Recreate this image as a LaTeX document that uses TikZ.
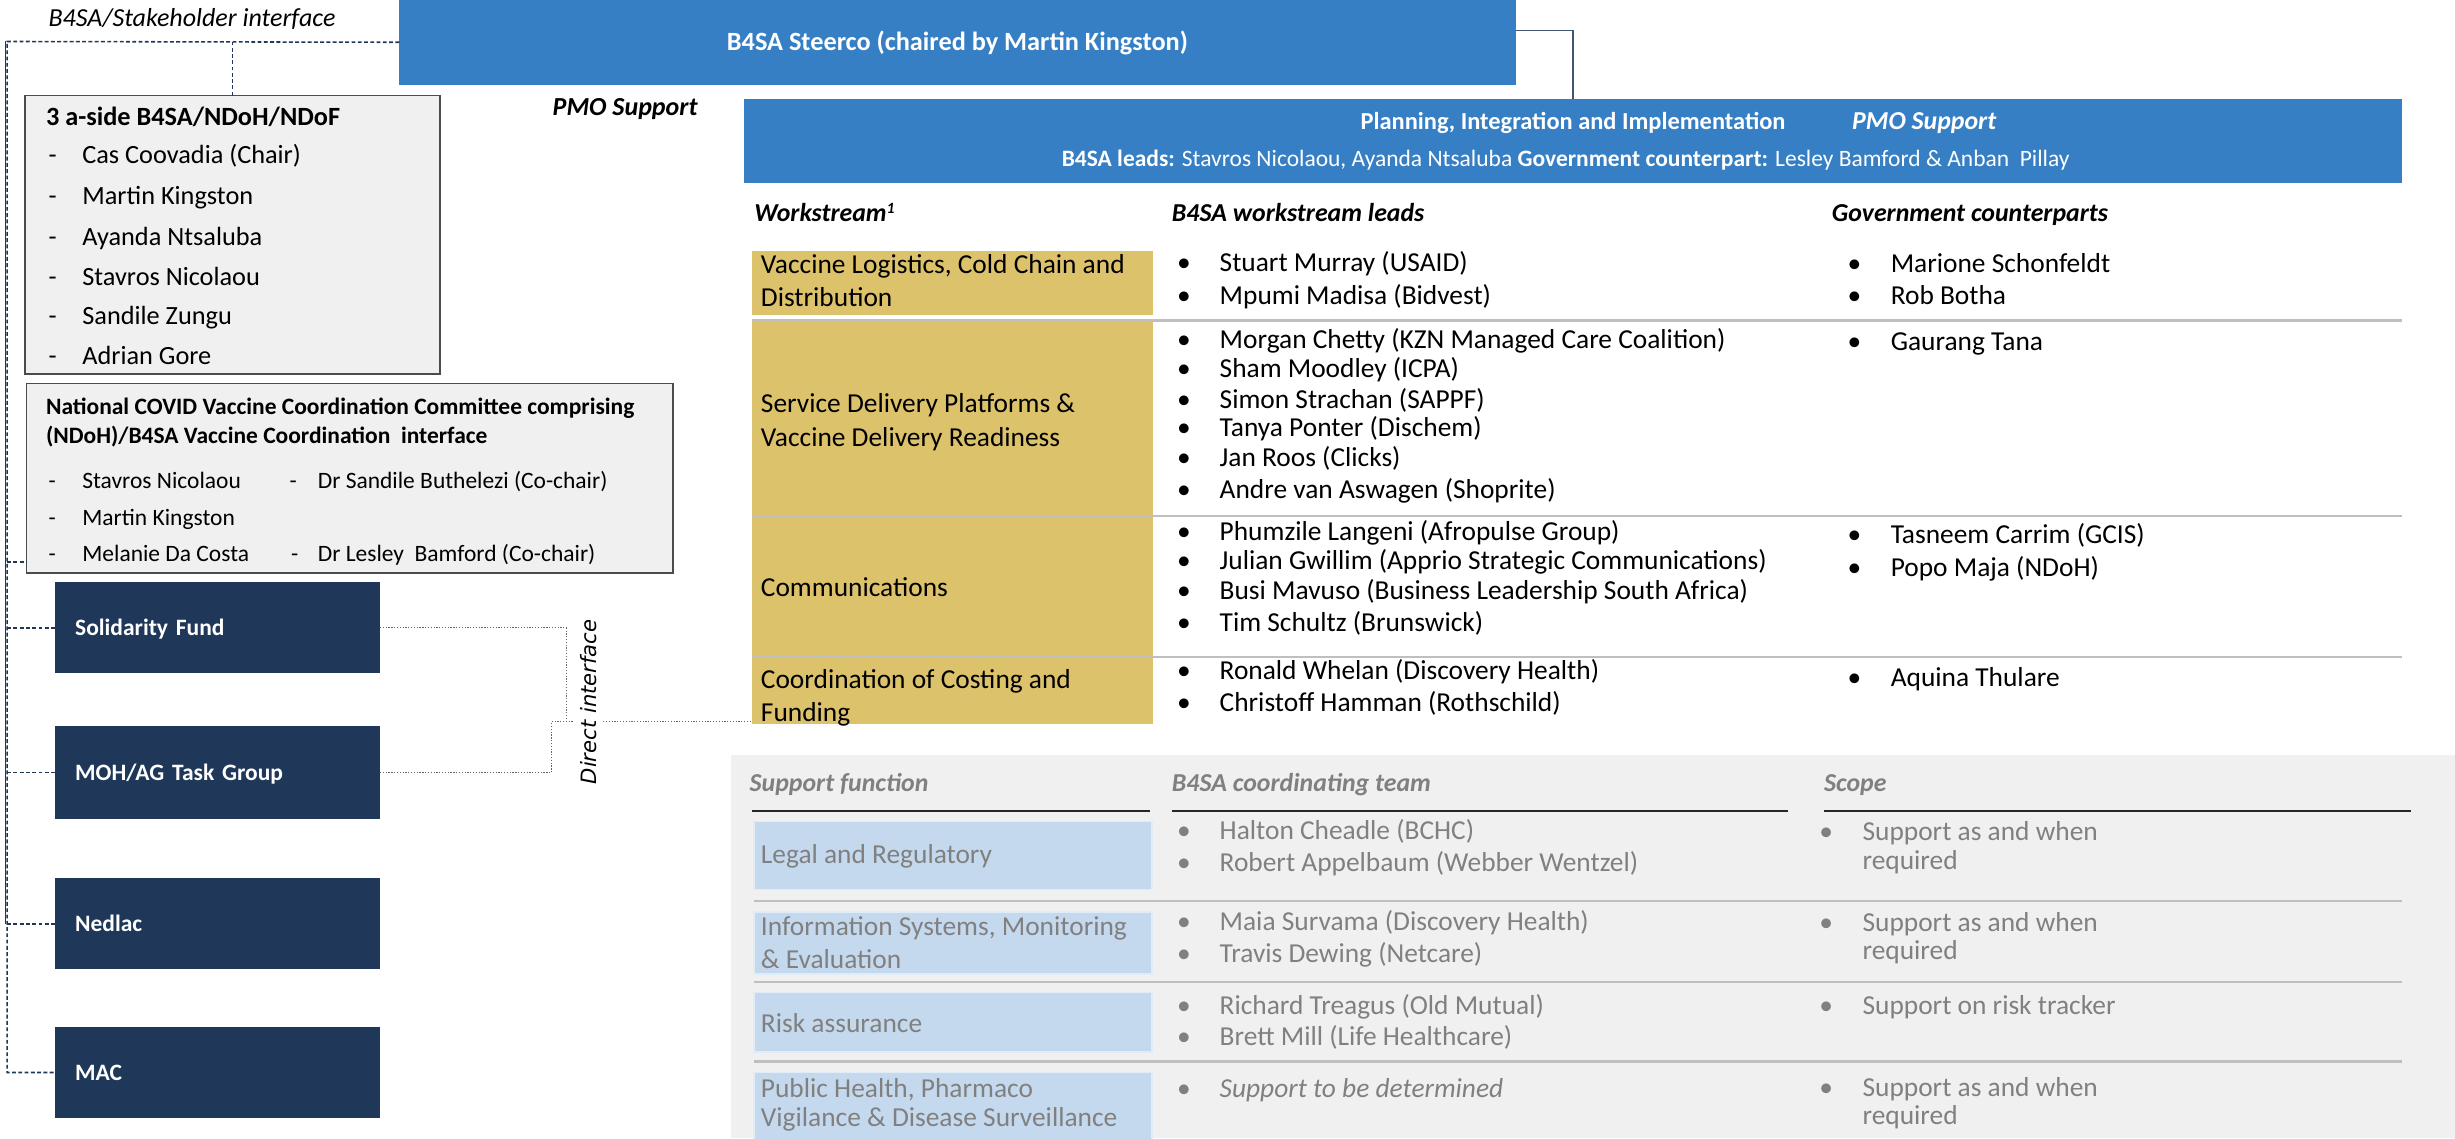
\documentclass[tikz,border=0pt]{standalone}
\usepackage{fontspec}
\usepackage{xcolor}
\setmainfont{Carlito}
\newfontfamily\dejavu{DejaVu Sans}

\definecolor{steerblue}{RGB}{54,127,196}
\definecolor{navy}{RGB}{31,56,89}
\definecolor{gold}{RGB}{221,194,108}
\definecolor{paleblue}{RGB}{197,217,238}
\definecolor{panelgray}{RGB}{240,240,240}
\definecolor{softgray}{RGB}{128,128,128}
\definecolor{rulegray}{RGB}{191,191,191}

\begin{document}
\begin{tikzpicture}[x=1pt, y=-1pt,
    every node/.style={inner sep=0pt, outer sep=0pt},
    bodytxt/.style={anchor=west, font=\fontsize{17.5}{21}\selectfont, text height=11.3pt, text depth=0pt},
    softtxt/.style={bodytxt, text=softgray},
    headtxt/.style={anchor=west, font=\fontsize{16.5}{20}\selectfont\bfseries\itshape, text height=10.8pt, text depth=0pt},
    bigtxt/.style={anchor=west, font=\fontsize{16.8}{20}\selectfont, text height=10.9pt, text depth=0pt},
    smalltxt/.style={anchor=west, font=\fontsize{15}{18}\selectfont, text height=9.7pt, text depth=0pt},
    bluebox/.style={fill=steerblue, text=white, anchor=north west},
    greybox/.style={draw=black!70, line width=1pt, fill=panelgray, anchor=north west},
    navybox/.style={fill=navy, text=white, anchor=north west, minimum width=207.7pt, minimum height=58pt,
        text width=181.7pt, inner xsep=13pt, align=left, font=\fontsize{15}{18}\selectfont\bfseries,
        text height=9.7pt, text depth=0pt},
    goldcell/.style={fill=gold, anchor=north west, minimum width=255.8pt},
    bluecell/.style={fill=paleblue, draw=paleblue!50!white, line width=1pt, anchor=north west, minimum width=254pt},
    dashlink/.style={draw=navy, line width=1pt, dash pattern=on 2.5pt off 1.5pt},
    dotlink/.style={draw=black!60, line width=0.8pt, densely dotted},
    sepline/.style={draw=rulegray, line width=1.4pt},
    headrule/.style={draw=black!85, line width=1.2pt}]
    \useasboundingbox (0,0) rectangle (1568,727);

    % Support function panel
    \fill[panelgray] (467,482) rectangle (1568,727);

    % Steerco and PMO
    \node[bluebox, minimum width=713pt, minimum height=54pt, font=\fontsize{16.8}{20}\selectfont\bfseries,
        text height=10.9pt, text depth=0pt] (steerco) at (255,0) {B4SA Steerco (chaired by Martin Kingston)};
    \node[anchor=west, font=\fontsize{16.6}{20}\selectfont\itshape, text height=10.8pt, text depth=0pt]
        (stakelabel) at (31,11.8) {B4SA/Stakeholder interface};
    \node[anchor=west, font=\fontsize{16.6}{20}\selectfont\bfseries\itshape, text height=10.8pt, text depth=0pt]
        (pmolabel) at (353,68.5) {PMO Support};
    \node[bluebox, minimum width=1059pt, minimum height=54pt] (pmo) at (475,63) {};
    \node[anchor=west, text=white, font=\fontsize{15.6}{19}\selectfont\bfseries, text height=10.1pt, text depth=0pt]
        (pmotitle) at (869,77.4) {Planning, Integration and Implementation};
    \node[anchor=west, text=white, font=\fontsize{16.5}{20}\selectfont\bfseries\itshape, text height=10.8pt, text depth=0pt]
        (pmosupport) at (1183,77.4) {PMO Support};
    \node[text=white, font=\fontsize{15}{18}\selectfont, text height=9.7pt, text depth=0pt] (pmoleads) at (1000,101.3)
        {\textbf{B4SA leads:} Stavros Nicolaou, Ayanda Ntsaluba \textbf{Government counterpart:} Lesley Bamford \& Anban\ \ Pillay};
    \draw[navy!85, line width=1pt] ([yshift=7.5pt]steerco.east) -| (pmo.north);

    % 3 a-side box
    \node[greybox, minimum width=265pt, minimum height=178pt] (aside) at (16,61) {};
    \node[bigtxt, font=\fontsize{16.8}{20}\selectfont\bfseries] (asidetitle) at (29.4,74.4) {3 a-side B4SA/NDoH/NDoF};
    \foreach \y/\who [count=\i] in {99.2/Cas Coovadia (Chair), 125.2/Martin Kingston, 151.2/Ayanda Ntsaluba,
        176.8/Stavros Nicolaou, 202/Sandile Zungu, 227.5/Adrian Gore} {
        \node[bigtxt] (asidedash\i) at (31,\y) {-};
        \node[bigtxt] (asidename\i) at (52.6,\y) {\who};
    }

    % National COVID Vaccine Coordination Committee box
    \node[greybox, minimum width=413pt, minimum height=121pt] (ncc) at (17,245) {};
    \node[smalltxt, font=\fontsize{15}{18}\selectfont\bfseries] (ncctitle1) at (29.4,260)
        {National COVID Vaccine Coordination Committee comprising};
    \node[smalltxt, font=\fontsize{15}{18}\selectfont\bfseries] (ncctitle2) at (29.4,278.4)
        {(NDoH)/B4SA Vaccine Coordination\ \ interface};
    \foreach \d/\x/\y/\who [count=\i] in {31/52.6/307/Stavros Nicolaou, 31/52.6/331/Martin Kingston,
        31/52.6/354/Melanie Da Costa, 185/203/307/Dr Sandile Buthelezi (Co-chair),
        186/203/354/Dr Lesley\ \ Bamford (Co-chair)} {
        \node[smalltxt] (nccdash\i) at (\d,\y) {-};
        \node[smalltxt] (nccname\i) at (\x,\y) {\who};
    }

    % Stakeholder boxes
    \node[navybox] (sf) at (35,372) {Solidarity Fund};
    \node[navybox, minimum height=59pt] (moh) at (35,464) {MOH/AG Task Group};
    \node[navybox] (ned) at (35,561) {Nedlac};
    \node[navybox] (mac) at (35,656) {MAC};

    % Stakeholder interface links
    \coordinate (rail) at (4.6,26.5);
    \coordinate (nccport) at ([yshift=7pt]ncc.south west);
    \draw[navy, line width=0.6pt] ([xshift=-1.2pt]rail) -- ([xshift=-1.2pt]rail |- ned.west);
    \draw[dashlink] (steerco.west) -- (rail) -- (rail |- mac.west) -- (mac.west);
    \foreach \grp in {sf, moh, ned}
        \draw[dashlink] (rail |- \grp.west) -- (\grp.west);
    \draw[dashlink] (rail |- nccport) -- (nccport);
    \draw[dashlink] (aside.north) -- (aside.north |- steerco.west);

    % Workstream table
    \node[headtxt] (wshead) at (481.8,136) {Workstream{\fontsize{10}{10}\selectfont\raisebox{5pt}{1}}};
    \node[headtxt] (leadhead) at (748.5,136) {B4SA workstream leads};
    \node[headtxt] (govhead) at (1170,136) {Government counterparts};
    \node[goldcell, minimum height=41.2pt] (ws1) at (480.5,160) {};
    \node[goldcell, minimum height=123.3pt] (ws2) at (480.5,205.7) {};
    \node[goldcell, minimum height=89pt] (ws3) at (480.5,330.5) {};
    \node[goldcell, minimum height=41.8pt] (ws4) at (480.5,420.5) {};
    \foreach \c in {ws2, ws3, ws4}
        \draw[sepline] ([yshift=1pt]\c.north west) -- ([yshift=1pt]\c.north west -| pmo.east);
    \foreach \y/\txt [count=\i] in {169/{Vaccine Logistics, Cold Chain and}, 190/Distribution,
        257.8/Service Delivery Platforms \&, 279.4/Vaccine Delivery Readiness, 375.6/Communications,
        433.8/Coordination of Costing and, 455.4/Funding}
        \node[bodytxt] (wsname\i) at (486,\y) {\txt};
    \foreach \y/\who [count=\i] in {167.8/Stuart Murray (USAID), 188.6/Mpumi Madisa (Bidvest),
        217/Morgan Chetty (KZN Managed Care Coalition), 235.4/Sham Moodley (ICPA),
        255/Simon Strachan (SAPPF), 273.3/Tanya Ponter (Dischem), 292/Jan Roos (Clicks),
        312.5/Andre van Aswagen (Shoprite), 339.3/Phumzile Langeni (Afropulse Group),
        358/Julian Gwillim (Apprio Strategic Communications), 377.2/Busi Mavuso (Business Leadership South Africa),
        397.5/Tim Schultz (Brunswick), 428.5/Ronald Whelan (Discovery Health),
        448.9/Christoff Hamman (Rothschild)} {
        \node[bodytxt] (leadbullet\i) at (751.8,\y) {\textbullet};
        \node[bodytxt] (leadname\i) at (779,\y) {\who};
    }
    \foreach \y/\who [count=\i] in {168.2/Marione Schonfeldt, 188.9/Rob Botha, 218.2/Gaurang Tana,
        341.8/Tasneem Carrim (GCIS), 362.6/Popo Maja (NDoH), 433/Aquina Thulare} {
        \node[bodytxt] (govbullet\i) at (1180,\y) {\textbullet};
        \node[bodytxt] (govname\i) at (1207.6,\y) {\who};
    }

    % Direct interface link
    \coordinate (dj) at (361.6,461);
    \node[rotate=90, inner ysep=4pt, font=\dejavu\itshape\fontsize{13.5}{16}\selectfont] (dilabel) at (376,448.3)
        {Direct interface};
    \draw[dotlink] (sf.east) -| (dj);
    \draw[dotlink] (moh.east) -| ([xshift=-9.3pt]dj) -- (dj -| dilabel.north);
    \draw[dotlink] (dj -| dilabel.south) -- (dj -| ws4.west);

    % Support functions
    \node[headtxt, text=softgray] (suphead) at (478.8,500) {Support function};
    \node[headtxt, text=softgray] (teamhead) at (748.5,500) {B4SA coordinating team};
    \node[headtxt, text=softgray] (scopehead) at (1165,500) {Scope};
    \draw[headrule] (480.5,518) -- (734.6,518);
    \draw[headrule] (748.5,518) -- (1141.8,518);
    \draw[headrule] (1165,518) -- (1539.6,518);
    \node[bluecell, minimum height=43.4pt] (sp1) at (481.7,524.6) {};
    \node[bluecell, minimum height=39.5pt] (sp2) at (481.7,582.5) {};
    \node[bluecell, minimum height=38pt] (sp3) at (481.7,634) {};
    \node[bluecell, minimum height=45pt] (sp4) at (481.7,685) {};
    \foreach \c in {sp2, sp3, sp4}
        \draw[sepline] ([yshift=7pt]\c.north west) -- ([yshift=7pt]\c.north west -| pmo.east);
    \foreach \y/\txt [count=\i] in {545.8/Legal and Regulatory, 591.9/{Information Systems, Monitoring},
        613/\& Evaluation, 653.8/Risk assurance, 695/{Public Health, Pharmaco},
        714/Vigilance \& Disease Surveillance}
        \node[softtxt] (supname\i) at (486,\y) {\txt};
    \foreach \y/\who [count=\i] in {530.3/Halton Cheadle (BCHC), 551.1/Robert Appelbaum (Webber Wentzel),
        588.6/Maia Survama (Discovery Health), 609/Travis Dewing (Netcare),
        642.5/Richard Treagus (Old Mutual), 662/Brett Mill (Life Healthcare),
        695.5/\textit{Support to be determined}} {
        \node[softtxt] (teambullet\i) at (751.8,\y) {\textbullet};
        \node[softtxt] (teamname\i) at (779,\y) {\who};
    }
    \foreach \y [count=\i] in {531.1, 589.4, 642.5, 694.5}
        \node[softtxt] (scopebullet\i) at (1162,\y) {\textbullet};
    \foreach \y/\txt [count=\i] in {531.1/Support as and when, 549.9/required, 589.4/Support as and when,
        606.9/required, 642.5/Support on risk tracker, 694.5/Support as and when, 712.5/required}
        \node[softtxt] (scopename\i) at (1189.6,\y) {\txt};

\end{tikzpicture}
\end{document}
